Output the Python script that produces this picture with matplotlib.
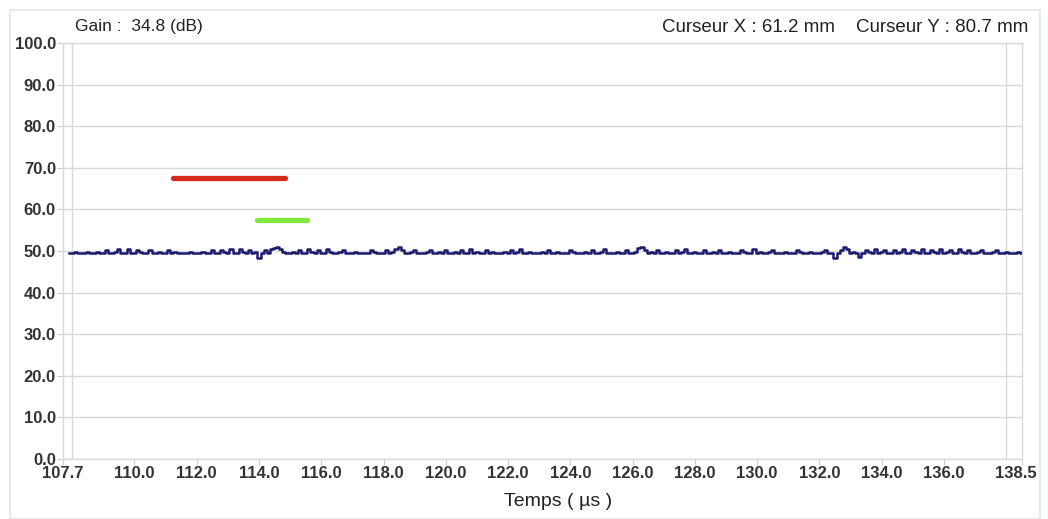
import matplotlib
matplotlib.use("Agg")
import matplotlib.pyplot as plt
import matplotlib.transforms as mtransforms
import numpy as np
from matplotlib.patches import Rectangle

plt.rcParams['font.family'] = ['Liberation Sans', 'DejaVu Sans']

# A-scan amplitude (%) sampled every 0.1 us starting at 107.9 us
t_start = 107.9
t_step = 0.1
amplitude = [
    49.6, 49.5, 49.7, 49.6, 49.4, 49.6, 49.7, 49.5, 49.6, 49.8, 49.5, 49.6, 50.3, 49.6, 49.5, 49.7, 50.4, 49.6, 49.5, 50.5,
    49.6, 49.4, 50.2, 49.7, 49.5, 49.6, 50.3, 49.6, 49.4, 49.7, 49.6, 49.5, 50.2, 49.6, 49.7, 49.5, 49.6, 49.4, 49.6, 49.7,
    49.5, 49.6, 49.4, 49.7, 49.6, 49.5, 50.2, 49.6, 49.4, 50.3, 49.7, 49.6, 50.5, 49.5, 49.6, 50.4, 49.7, 49.5, 50.3, 49.6,
    49.7, 48.3, 49.5, 50.2, 49.6, 50.4, 50.6, 51.0, 50.5, 49.8, 49.6, 49.5, 49.7, 49.6, 50.3, 49.5, 49.6, 50.4, 49.7, 49.6,
    50.3, 49.5, 49.6, 50.5, 49.7, 49.4, 49.6, 49.7, 50.2, 49.6, 49.5, 49.6, 49.7, 49.4, 49.6, 49.5, 49.6, 50.3, 49.7, 49.5,
    49.6, 49.4, 50.2, 49.6, 49.7, 50.4, 50.9, 50.3, 49.6, 49.5, 49.7, 50.2, 49.6, 49.4, 49.6, 49.7, 50.3, 49.5, 49.6, 49.7,
    49.4, 50.2, 49.6, 49.5, 49.7, 49.6, 50.3, 49.5, 49.6, 50.4, 49.6, 49.7, 49.5, 49.6, 50.2, 49.6, 49.7, 49.5, 49.4, 49.6,
    49.7, 49.5, 50.3, 49.6, 49.7, 50.4, 49.6, 49.5, 49.7, 49.6, 49.4, 49.6, 49.7, 49.5, 50.2, 49.6, 49.5, 49.7, 49.6, 49.4,
    49.6, 50.3, 49.7, 49.5, 49.6, 49.4, 49.7, 49.6, 50.2, 49.5, 49.6, 49.7, 50.4, 49.6, 49.5, 49.6, 49.7, 49.5, 49.6, 50.3,
    49.6, 49.5, 49.7, 50.6, 50.9, 50.2, 49.6, 49.7, 49.5, 50.3, 49.6, 49.4, 49.7, 49.6, 49.5, 50.2, 49.6, 49.7, 50.4, 49.5,
    49.6, 49.7, 49.5, 49.6, 50.3, 49.4, 49.6, 49.7, 49.5, 50.2, 49.6, 49.5, 49.7, 49.6, 49.4, 49.6, 50.3, 49.7, 49.5, 49.6,
    50.4, 49.6, 49.7, 49.5, 49.6, 49.7, 50.2, 49.5, 49.6, 49.4, 49.7, 49.6, 49.5, 49.6, 50.3, 49.7, 49.5, 49.6, 49.7, 49.4,
    49.6, 49.5, 49.7, 50.2, 49.6, 49.5, 48.2, 49.4, 50.3, 50.9, 50.4, 49.6, 49.7, 49.5, 48.6, 49.6, 50.2, 49.7, 49.5, 50.4,
    49.6, 49.7, 50.3, 49.5, 49.6, 50.2, 49.4, 49.7, 50.5, 49.6, 49.5, 50.3, 49.7, 49.6, 50.4, 49.5, 49.6, 50.2, 49.7, 49.5,
    50.4, 49.6, 49.7, 50.3, 49.5, 49.6, 50.5, 49.7, 49.4, 50.2, 49.6, 49.5, 49.7, 50.3, 49.6, 49.5, 49.6, 49.7, 50.2, 49.6,
    49.5, 49.7, 49.6, 49.4, 49.6, 49.7, 49.6,
]
times = t_start + t_step * np.arange(len(amplitude))

# gates: (start, end, level)
gate_a = (111.25, 114.85, 67.6)
gate_b = (113.95, 115.55, 57.4)

x_min, x_max = 107.7, 138.5
x_labels = [107.7] + list(np.arange(110.0, 137.0, 2.0)) + [138.5]
x_grid = np.arange(108.0, 139.0, 2.0)
y_ticks = np.arange(0, 101, 10)

fig = plt.figure(figsize=(10.48, 5.19), dpi=100)
ax = fig.add_axes([0.060, 0.116, 0.915, 0.801])

fig.patches.append(Rectangle((10 / 1048, 0), 1030 / 1048, 509 / 519, transform=fig.transFigure,
                             fill=False, edgecolor='#dde6ee', lw=1.2))

ax.plot(times, amplitude, color='#1b1b6e', lw=1.8, drawstyle='steps-mid', zorder=3)
ax.plot(gate_a[:2], [gate_a[2]] * 2, color='#d62a18', lw=3.8, solid_capstyle='round', zorder=4)
ax.plot(gate_b[:2], [gate_b[2]] * 2, color='#80e83c', lw=3.8, solid_capstyle='round', zorder=4)

ax.set_xlim(x_min, x_max)
ax.set_ylim(0, 100)
ax.set_xticks(x_labels)
ax.set_xticklabels([f'{v:.1f}' for v in x_labels])
ax.set_xticks(x_grid, minor=True)
ax.set_yticks(y_ticks)
ax.set_yticklabels([f'{v:.1f}' for v in y_ticks])

ax.grid(False)
ax.grid(True, which='minor', axis='x', color='#d8d8d8', lw=1)
ax.grid(True, which='major', axis='y', color='#d8d8d8', lw=1)
ax.tick_params(axis='x', which='minor', length=0)
ax.tick_params(axis='both', which='major', length=4, color='#cccccc', labelsize=12,
               labelcolor='#333333', pad=1)
for lab in ax.get_xticklabels() + ax.get_yticklabels():
    lab.set_fontweight('bold')
for s in ax.spines.values():
    s.set_color('#d8d8d8')
    s.set_linewidth(1)

# last label sits a bit left of the axis end
last = ax.get_xticklabels()[-1]
last.set_transform(last.get_transform() + mtransforms.ScaledTranslation(-6 / 100, 0, fig.dpi_scale_trans))

ax.set_xlabel('Temps ( µs )', fontsize=14, color='#222222')
ax.xaxis.set_label_coords(0.516, -0.082)

fig.text(75 / 1048, 1 - 27 / 519, 'Gain :  34.8 (dB)', fontsize=12.5, color='#222222', va='center')
fig.text(1028 / 1048, 1 - 27 / 519, 'Curseur X : 61.2 mm    Curseur Y : 80.7 mm', fontsize=13.5,
         color='#222222', va='center', ha='right')

fig.savefig('out.png', dpi=100)
